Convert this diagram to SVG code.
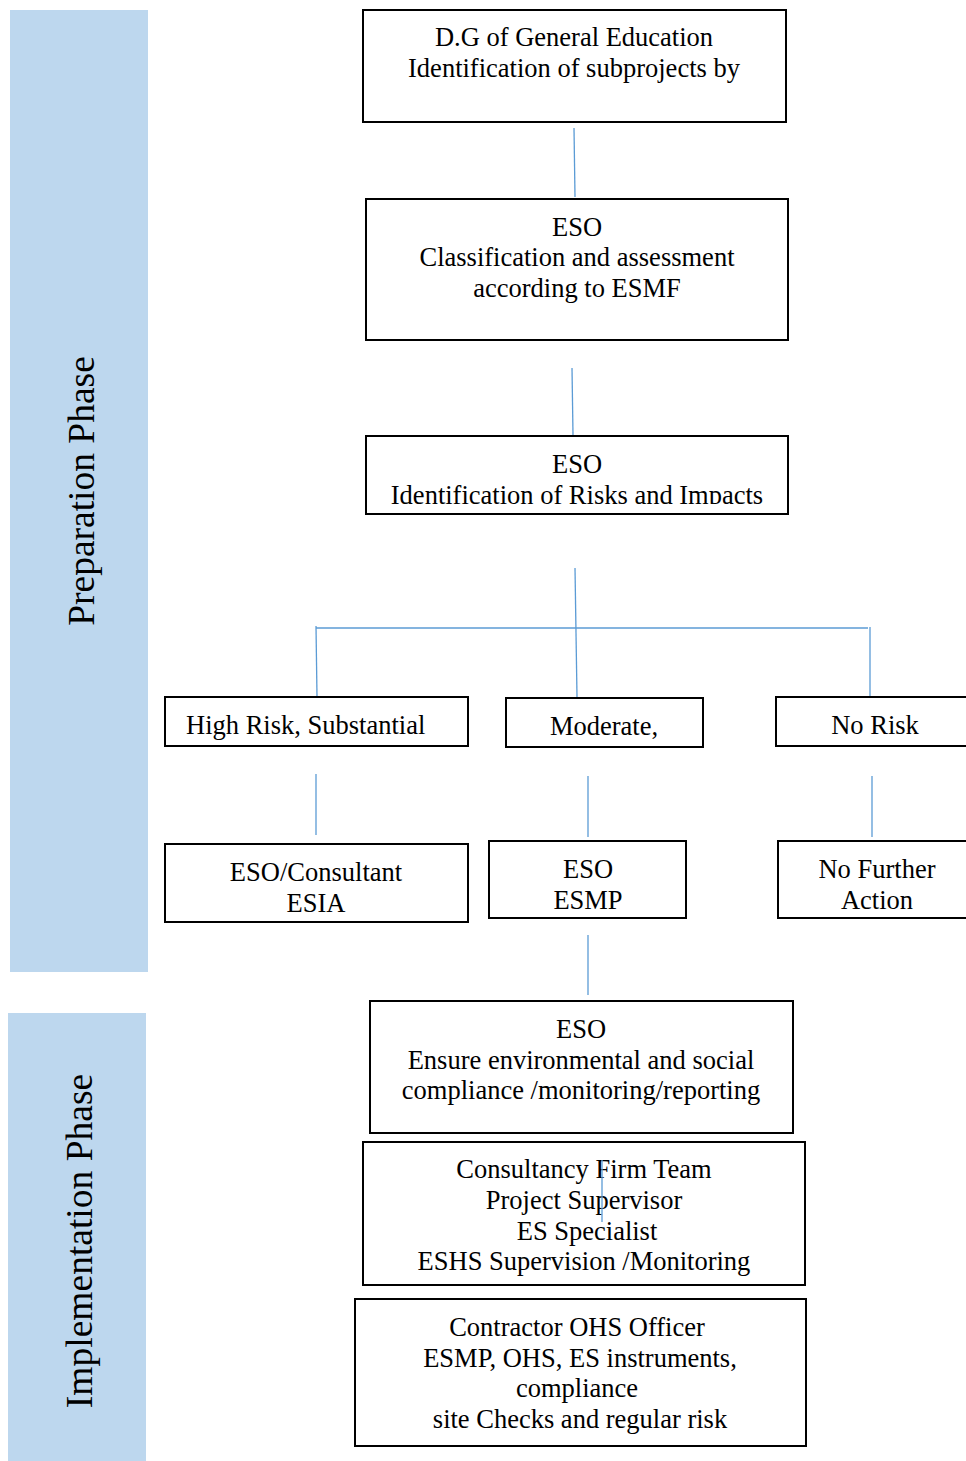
<svg xmlns="http://www.w3.org/2000/svg" width="966" height="1461" viewBox="0 0 966 1461">
<style>
.box{fill:#fff;stroke:#000;stroke-width:2}
.t{font-family:"Liberation Serif","Times New Roman",serif;font-size:26.5px;fill:#000;text-anchor:middle}
.ph{font-family:"Liberation Serif","Times New Roman",serif;font-size:37.5px;fill:#000;text-anchor:middle}
.c{stroke:#5B9BD5;stroke-width:1.3;fill:none}
.band{fill:#BDD7EE}
</style>
<defs>
<clipPath id="clip3"><rect x="366" y="436" width="422" height="68"/></clipPath>
</defs>
<rect width="966" height="1461" fill="#fff"/>
<g id="prep-phase">
<rect class="band" x="10" y="10" width="138" height="962"/>
<text class="ph" transform="translate(94,491) rotate(-90)">Preparation Phase</text>
</g>
<g id="impl-phase">
<rect class="band" x="8" y="1013" width="138" height="448"/>
<text class="ph" transform="translate(92,1241) rotate(-90)">Implementation Phase</text>
</g>
<g id="connectors">
<line class="c" x1="574" y1="128" x2="575" y2="197"/>
<line class="c" x1="572" y1="368" x2="573" y2="435"/>
<line class="c" x1="575" y1="568" x2="577" y2="697"/>
<line class="c" x1="316" y1="628" x2="868" y2="628"/>
<line class="c" x1="316" y1="626" x2="317" y2="697"/>
<line class="c" x1="870" y1="627" x2="870" y2="696"/>
<line class="c" x1="316" y1="774" x2="316" y2="835"/>
<line class="c" x1="588" y1="776" x2="588" y2="837"/>
<line class="c" x1="872" y1="776" x2="872" y2="837"/>
<line class="c" x1="588" y1="935" x2="588" y2="995"/>
</g>
<g id="n1">
<rect class="box" x="363" y="10" width="423" height="112"/>
<text class="t" x="574" y="46">D.G of General Education</text>
<text class="t" x="574" y="77">Identification of subprojects by</text>
</g>
<g id="n2">
<rect class="box" x="366" y="199" width="422" height="141"/>
<text class="t" x="577" y="236">ESO</text>
<text class="t" x="577" y="266">Classification and assessment</text>
<text class="t" x="577" y="297">according to ESMF</text>
</g>
<g id="n3">
<rect class="box" x="366" y="436" width="422" height="78"/>
<g clip-path="url(#clip3)">
<text class="t" x="577" y="473">ESO</text>
<text class="t" x="577" y="504">Identification of Risks and Impacts</text>
</g>
</g>
<g id="n4">
<rect class="box" x="165" y="697" width="303" height="49"/>
<text class="t" x="186" y="734" style="text-anchor:start">High Risk, Substantial</text>
</g>
<g id="n5">
<rect class="box" x="506" y="698" width="197" height="49"/>
<text class="t" x="604" y="735">Moderate,</text>
</g>
<g id="n6">
<rect class="box" x="776" y="697" width="200" height="49"/>
<text class="t" x="875" y="734">No Risk</text>
</g>
<g id="n7">
<rect class="box" x="165" y="844" width="303" height="78"/>
<text class="t" x="316" y="881">ESO/Consultant</text>
<text class="t" x="316" y="912">ESIA</text>
</g>
<g id="n8">
<rect class="box" x="489" y="841" width="197" height="77"/>
<text class="t" x="588" y="878">ESO</text>
<text class="t" x="588" y="909">ESMP</text>
</g>
<g id="n9">
<rect class="box" x="778" y="841" width="198" height="77"/>
<text class="t" x="877" y="878">No Further</text>
<text class="t" x="877" y="909">Action</text>
</g>
<g id="n10">
<rect class="box" x="370" y="1001" width="423" height="132"/>
<text class="t" x="581" y="1038">ESO</text>
<text class="t" x="581" y="1069">Ensure environmental and social</text>
<text class="t" x="581" y="1099">compliance /monitoring/reporting</text>
</g>
<g id="n11">
<rect class="box" x="363" y="1142" width="442" height="143"/>
<text class="t" x="584" y="1178">Consultancy Firm Team</text>
<text class="t" x="584" y="1209">Project Supervisor</text>
<text class="t" x="587" y="1240">ES Specialist</text>
<text class="t" x="584" y="1270">ESHS Supervision /Monitoring</text>
<line class="c" x1="602" y1="1160" x2="602" y2="1222"/>
</g>
<g id="n12">
<rect class="box" x="355" y="1299" width="451" height="147"/>
<text class="t" x="577" y="1336">Contractor OHS Officer</text>
<text class="t" x="580" y="1367">ESMP, OHS, ES instruments,</text>
<text class="t" x="577" y="1397">compliance</text>
<text class="t" x="580" y="1428">site Checks and regular risk</text>
</g>
</svg>
